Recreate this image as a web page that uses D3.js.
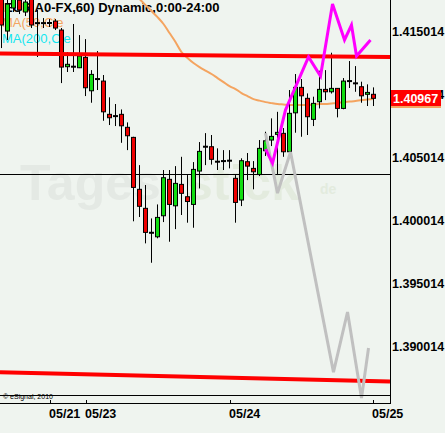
<!DOCTYPE html>
<html>
<head>
<meta charset="utf-8">
<script src="https://cdn.jsdelivr.net/npm/d3@7"></script>
<style>
  html, body { margin: 0; padding: 0; background: #eff4ef; }
  svg { display: block; }
  text { font-family: "Liberation Sans", Arial, sans-serif; }
</style>
</head>
<body>
<div id="chart"></div>
<script>
// hourly EUR A0-FX candles (open, high, low, close)
const opens  = [1.41787,1.41501,1.41684,1.41747,1.41652,1.41763,1.41564,1.41564,1.41564,1.41580,
                1.41509,1.41218,1.41218,1.41210,1.41292,1.41027,1.41120,1.41104,1.40840,1.40826,
                1.40840,1.40737,1.40657,1.40245,1.40094,1.39900,1.39868,1.40035,1.40324,1.40114,
                1.40284,1.40186,1.40125,1.40390,1.40583,1.40583,1.40464,1.40469,1.40472,1.40332,
                1.40160,1.40464,1.40411,1.40362,1.40551,1.40636,1.40681,1.40689,1.40543,1.40852,
                1.41054,1.40967,1.40800,1.40940,1.41038,1.41019,1.41046,1.40887,1.41104,1.41086,
                1.41059,1.40999,1.40999]
const highs  = [1.41826,1.41787,1.41810,1.41779,1.41771,1.41795,1.41668,1.41604,1.41596,1.41596,
                1.41525,1.41334,1.41557,1.41469,1.41437,1.41191,1.41342,1.41152,1.40975,1.40922,
                1.40879,1.40776,1.40662,1.40437,1.40279,1.40014,1.40125,1.40398,1.40398,1.40429,
                1.40503,1.40358,1.40461,1.40620,1.40691,1.40676,1.40570,1.40556,1.40556,1.40358,
                1.40491,1.40533,1.40469,1.40636,1.40702,1.40808,1.40860,1.40731,1.41033,1.41160,
                1.41120,1.41006,1.40980,1.41186,1.41191,1.41329,1.41049,1.41128,1.41263,1.41223,
                1.41099,1.41078,1.41054]
const lows   = [1.41366,1.41430,1.41652,1.41636,1.41620,1.41525,1.41295,1.41525,1.41533,1.41509,
                1.41088,1.41176,1.41176,1.41207,1.40985,1.40932,1.41033,1.40789,1.40755,1.40747,
                1.40614,1.40556,1.39991,1.40025,1.39816,1.39662,1.39856,1.39985,1.39829,1.39929,
                1.40041,1.39980,1.39940,1.40252,1.40437,1.40441,1.40398,1.40398,1.40411,1.39980,
                1.40112,1.40318,1.40245,1.40350,1.40509,1.40588,1.40358,1.40503,1.40541,1.40694,
                1.40662,1.40676,1.40747,1.40887,1.40953,1.41005,1.40816,1.40880,1.41049,1.41019,
                1.40932,1.40906,1.40906]
const closes = [1.41549,1.41715,1.41763,1.41668,1.41731,1.41549,1.41564,1.41564,1.41566,1.41525,
                1.41215,1.41237,1.41218,1.41303,1.41051,1.41157,1.41120,1.40860,1.40813,1.40826,
                1.40749,1.40670,1.40260,1.40110,1.39903,1.39900,1.40022,1.40337,1.40125,1.40292,
                1.40213,1.40148,1.40403,1.40546,1.40583,1.40483,1.40464,1.40469,1.40472,1.40141,
                1.40472,1.40429,1.40384,1.40570,1.40630,1.40665,1.40697,1.40543,1.40848,1.41054,
                1.40987,1.40821,1.40927,1.41038,1.41019,1.41046,1.40887,1.41104,1.41104,1.41086,
                1.40987,1.41014,1.40967]

// MA(50) from candle 22 onward
const maStart = 22
const ma50 = [1.41803,1.41755,1.41707,1.41660,1.41612,1.41557,1.41485,1.41414,1.41334,1.41287,
              1.41247,1.41215,1.41187,1.41160,1.41128,1.41096,1.41064,1.41041,1.41009,1.40985,
              1.40961,1.40949,1.40937,1.40929,1.40922,1.40918,1.40914,1.40914,1.40914,1.40914,
              1.40918,1.40922,1.40922,1.40926,1.40929,1.40937,1.40941,1.40945,1.40953,1.40957,
              1.40961]

// drawn trendlines: [candle index, price]
const upperLine = [[-0.25, 1.41322], [64.75, 1.41295]]
const lowerLine = [[-0.25, 1.38794], [64.75, 1.38719]]
const hLinePrice = 1.40366

// projection paths
const magentaIdx   = [44, 45.17, 47.33, 51.17, 53.17, 55.17, 57.17, 58.33, 59.17, 61.5]
const magentaPrice = [1.40564,1.40453,1.40874,1.41295,1.41144,1.41715,1.41430,1.41549,1.41303,1.41430]
const grayIdx   = [44, 46, 48.17, 55.33, 57.67, 60, 61.17]
const grayPrice = [1.40691,1.40215,1.40541,1.38794,1.39271,1.38588,1.38985]

// axis
const priceTicks = [1.415014, 1.410014, 1.405014, 1.400014, 1.395014, 1.390014]
const dateLabels = ["05/21", "05/23", "05/24", "05/25"]
const datePos    = [8.08, 14.08, 38.08, 61.92]
const lastPrice = 1.40967
const lastMa = 1.40961

const W = 445, H = 433
const plotW = 390, plotH = 404

const svg = d3.select("#chart").append("svg")
  .attr("width", W).attr("height", H)

svg.append("rect").attr("width", W).attr("height", H).attr("fill", "#eff4ef")

svg.append("clipPath").attr("id", "plotclip")
  .append("rect").attr("width", plotW).attr("height", plotH)

const x = d3.scaleLinear().domain([0, 62]).range([1.5, 373.5])
const y = d3.scaleLinear().domain([1.400014, 1.415014]).range([220, 31])

const plot = svg.append("g").attr("clip-path", "url(#plotclip)")

// watermark
plot.append("text").attr("x", 20).attr("y", 200)
  .attr("font-size", 50).attr("font-weight", "bold")
  .attr("fill", "#e4e9e4").text("Tages")
plot.append("text").attr("x", 185).attr("y", 200)
  .attr("font-size", 50).attr("font-weight", "bold")
  .attr("fill", "#e3ebde").text("stick")
plot.append("text").attr("x", 320).attr("y", 194)
  .attr("font-size", 14).attr("font-weight", "bold")
  .attr("fill", "#e3ebde").text("de")

// title + legend (sit under the candles)
plot.append("text").attr("x", 4).attr("y", 12)
  .attr("font-size", 13).attr("font-weight", "bold").attr("fill", "#000")
  .text("EUR A0-FX,60) Dynamic,0:00-24:00")
plot.append("text").attr("x", 2).attr("y", 27)
  .attr("font-size", 13).attr("fill", "#f4a460").text("MA(50,Cle")
plot.append("text").attr("x", 2).attr("y", 43)
  .attr("font-size", 13).attr("fill", "#14e6f0").text("MA(200,Cle")

// horizontal reference line
plot.append("line")
  .attr("x1", 0).attr("x2", plotW)
  .attr("y1", Math.round(y(hLinePrice)) + 0.5).attr("y2", Math.round(y(hLinePrice)) + 0.5)
  .attr("stroke", "#000").attr("stroke-width", 1)

// MA(50)
const maLine = d3.line()
  .x((d, i) => x(i + maStart))
  .y(d => y(d))
  .curve(d3.curveMonotoneX)
plot.append("path").attr("d", maLine(ma50))
  .attr("fill", "none").attr("stroke", "#f4a460").attr("stroke-width", 2)

// candles
const candles = opens.map((o, i) => ({ i: i, o: o, h: highs[i], l: lows[i], c: closes[i] }))

const cg = plot.selectAll("g.candle").data(candles).enter().append("g")

cg.append("line")
  .attr("x1", d => x(d.i)).attr("x2", d => x(d.i))
  .attr("y1", d => y(d.h)).attr("y2", d => y(d.l))
  .attr("stroke", "#000").attr("stroke-width", 1)

cg.each(function(d) {
  const g = d3.select(this)
  const top = y(Math.max(d.o, d.c)), bot = y(Math.min(d.o, d.c))
  if (bot - top < 1.5) {
    g.append("rect")
      .attr("x", x(d.i) - 2.5).attr("y", (top + bot) / 2 - 1)
      .attr("width", 5).attr("height", 2).attr("fill", "#000")
  } else {
    g.append("rect")
      .attr("x", x(d.i) - 2).attr("y", top)
      .attr("width", 4).attr("height", bot - top)
      .attr("fill", d.c >= d.o ? "#11dd11" : "#ee0000")
      .attr("stroke", "#000").attr("stroke-width", 1)
  }
})

// red trendlines
const tl = d3.line().x(d => x(d[0])).y(d => y(d[1]))
plot.append("path").attr("d", tl(upperLine))
  .attr("fill", "none").attr("stroke", "#ff0000").attr("stroke-width", 4)
plot.append("path").attr("d", tl(lowerLine))
  .attr("fill", "none").attr("stroke", "#ff0000").attr("stroke-width", 4)

// projections
const proj = d3.line().x(d => x(d[0])).y(d => y(d[1]))
plot.append("path").attr("d", proj(grayIdx.map((v, i) => [v, grayPrice[i]])))
  .attr("fill", "none").attr("stroke", "#c0c0c0").attr("stroke-width", 3)
plot.append("path").attr("d", proj(magentaIdx.map((v, i) => [v, magentaPrice[i]])))
  .attr("fill", "none").attr("stroke", "#ff00ff").attr("stroke-width", 3)

// bottom strip with copyright
svg.append("text").attr("x", 3).attr("y", 399)
  .attr("font-size", 7).attr("fill", "#000").text("\u00a9 eSignal, 2010")
svg.append("line").attr("x1", 0).attr("x2", plotW).attr("y1", 395.5).attr("y2", 395.5)
  .attr("stroke", "#000")

// axes frame
svg.append("line").attr("x1", 390.5).attr("x2", 390.5).attr("y1", 0).attr("y2", 404)
  .attr("stroke", "#000")
svg.append("line").attr("x1", 0).attr("x2", 391).attr("y1", 403.5).attr("y2", 403.5)
  .attr("stroke", "#000")

// price labels
svg.selectAll("text.price").data(priceTicks).enter().append("text")
  .attr("class", "price")
  .attr("x", 392).attr("y", d => y(d))
  .attr("dy", "0.36em")
  .attr("font-size", 12.5).attr("font-weight", "bold").attr("fill", "#000")
  .text(d => d.toFixed(6))

// last values
svg.append("rect").attr("x", 391).attr("y", Math.round(y(lastMa)) - 7)
  .attr("width", 50).attr("height", 16).attr("fill", "#f4a460")
svg.append("rect").attr("x", 391).attr("y", Math.round(y(lastPrice)) - 8)
  .attr("width", 50).attr("height", 16).attr("fill", "#ff0000")
svg.append("text").attr("x", 393).attr("y", y(lastPrice)).attr("dy", "0.36em")
  .attr("font-size", 12.5).attr("font-weight", "bold").attr("fill", "#fff")
  .text(lastPrice.toFixed(5))

// date axis
svg.selectAll("line.dtick").data(datePos).enter().append("line")
  .attr("x1", d => Math.round(x(d)) + 0.5).attr("x2", d => Math.round(x(d)) + 0.5)
  .attr("y1", 400).attr("y2", 404).attr("stroke", "#000")
svg.selectAll("text.date").data(dateLabels).enter().append("text")
  .attr("x", (d, i) => Math.round(x(datePos[i])) - 1).attr("y", 418)
  .attr("font-size", 12.5).attr("font-weight", "bold").attr("fill", "#000")
  .text(d => d)
</script>
</body>
</html>
